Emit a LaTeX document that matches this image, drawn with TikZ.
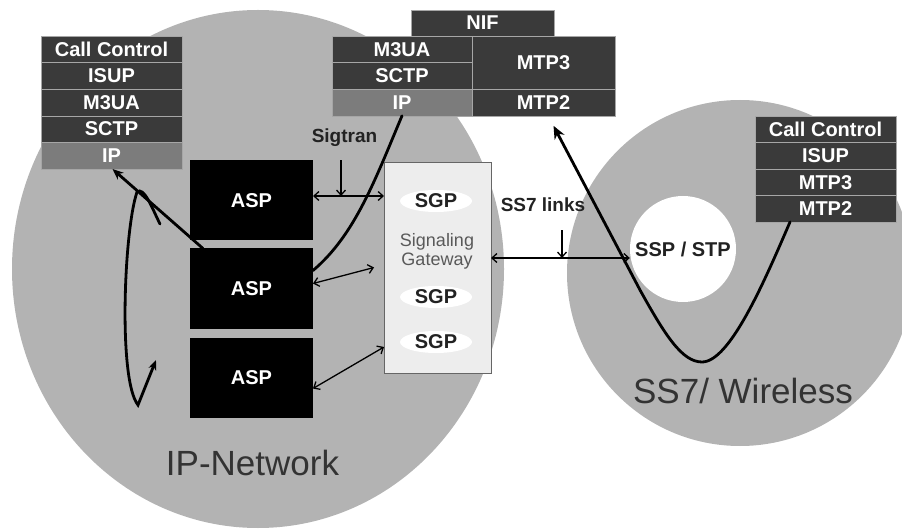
\documentclass[tikz,border=0pt]{standalone}
\usepackage{fontspec}
\setmainfont{Liberation Sans}
\usetikzlibrary{arrows.meta, positioning, shapes.geometric, calc}

\definecolor{netgray}{HTML}{B3B3B3}
\definecolor{stackdark}{HTML}{3A3A3A}
\definecolor{stackip}{HTML}{7C7C7C}
\definecolor{gwfill}{HTML}{EDEDED}
\definecolor{labeltext}{HTML}{222222}

\begin{document}
\begin{tikzpicture}[x=1pt, y=-1pt,
    layer/.style={draw=gray!70, fill=stackdark, text=white, font=\fontsize{20}{22}\selectfont\bfseries,
        minimum height=26.6pt, inner sep=0pt, outer sep=0pt},
    iplayer/.style={layer, fill=stackip},
    aspbox/.style={fill=black, text=white, font=\fontsize{20}{22}\selectfont\bfseries,
        minimum width=123pt, minimum height=80pt, inner sep=0pt, outer sep=0pt},
    sgp/.style={ellipse, fill=white, text=labeltext, font=\fontsize{20}{22}\selectfont\bfseries,
        minimum width=72pt, minimum height=22pt, inner sep=0pt},
    tag/.style={text=labeltext, font=\fontsize{19}{21}\selectfont\bfseries, inner sep=2pt, anchor=base},
    netname/.style={text=black!80, font=\fontsize{35}{40}\selectfont, anchor=base},
    dbl/.style={line width=1.3pt, {Straight Barb[length=5pt,width=9pt]}-{Straight Barb[length=5pt,width=9pt]}},
    tick/.style={line width=1.3pt, -{Straight Barb[length=5pt,width=9pt]}},
    wire/.style={line width=2.8pt, line cap=round}
]
    \useasboundingbox (0,0) rectangle (902,529);

    % the two networks
    \fill[netgray] (258,269) ellipse [x radius=246pt, y radius=259pt];
    \fill[netgray] (740,273) circle [radius=173pt];
    \node[netname] (ipnet) at (252.5,475) {IP-Network};
    \node[netname] (ss7net) at (743,403) {SS7/ Wireless};

    % protocol stack of the ASP side
    \node[layer, minimum width=141pt] (lcc) at (111.5,49.3) {Call Control};
    \node[layer, minimum width=141pt, below=0pt of lcc] (lisup) {ISUP};
    \node[layer, minimum width=141pt, below=0pt of lisup] (lm3ua) {M3UA};
    \node[layer, minimum width=141pt, below=0pt of lm3ua] (lsctp) {SCTP};
    \node[iplayer, minimum width=141pt, below=0pt of lsctp] (lip) {IP};

    % protocol stack of the gateway
    \node[layer, minimum width=143pt, minimum height=26pt] (mnif) at (482.5,23) {NIF};
    \node[layer, minimum width=140pt] (mm3ua) at (402,49.3) {M3UA};
    \node[layer, minimum width=140pt, below=0pt of mm3ua] (msctp) {SCTP};
    \node[iplayer, minimum width=140pt, below=0pt of msctp] (mip) {IP};
    \node[layer, minimum width=143pt, right=0pt of mip] (mmtp2) {MTP2};
    \node[layer, minimum width=143pt, minimum height=53.2pt, above=0pt of mmtp2] (mmtp3) {MTP3};

    % protocol stack of the SS7 side
    \node[layer, minimum width=141pt, minimum height=26.5pt] (rcc) at (825.5,129.25) {Call Control};
    \node[layer, minimum width=141pt, minimum height=26.5pt, below=0pt of rcc] (risup) {ISUP};
    \node[layer, minimum width=141pt, minimum height=26.5pt, below=0pt of risup] (rmtp3) {MTP3};
    \node[layer, minimum width=141pt, minimum height=26.5pt, below=0pt of rmtp3] (rmtp2) {MTP2};

    % application servers
    \node[aspbox] (asp1) at (251.5,200.5) {ASP};
    \node[aspbox, below=8pt of asp1] (asp2) {ASP};
    \node[aspbox, below=9pt of asp2] (asp3) {ASP};

    % signaling gateway
    \node[draw=gray!80!black, fill=gwfill, minimum width=107pt, minimum height=211pt, outer sep=0pt] (gw) at (437.5,267.5) {};
    \node[sgp] (sgp1) at (436,201) {SGP};
    \node[sgp] (sgp2) at (436,297) {SGP};
    \node[sgp] (sgp3) at (436,342) {SGP};
    \node[text=black!65, font=\fontsize{18}{19}\selectfont, align=center] (gwname) at (437,251) {Signaling\\Gateway};

    % signaling point
    \node[circle, fill=white, minimum size=106pt, inner sep=0pt, text=labeltext,
        font=\fontsize{20}{22}\selectfont\bfseries] (ssp) at (683,249) {SSP / STP};

    % labels of the links
    \node[tag] (sigtran) at (344.5,143) {Sigtran};
    \node[tag] (links) at (543,212) {SS7 links};
    \coordinate (sigpoint) at (341,196);
    \coordinate (linkpoint) at (562,258);

    % connections
    \draw[dbl] (asp1.east |- sigpoint) -- (gw.west |- sigpoint);
    \draw[tick, shorten <=11pt] (sigtran.south -| sigpoint) -- (sigpoint);
    \draw[dbl] ([yshift=5pt]asp2.east) -- ([xshift=-10pt]gw.west);
    \draw[dbl] ([yshift=-11pt]asp3.east) -- ([yshift=26pt]gw.south west);
    \draw[dbl] (gw.east |- linkpoint) -- (ssp.west |- linkpoint);
    \draw[tick, shorten <=16pt] (links.south -| linkpoint) -- (linkpoint);

    % message paths
    \draw[wire] (mip.south) .. controls (375,180) and (355,235) .. ([yshift=18pt]asp2.east);
    \draw[wire, -{Stealth[length=11pt,width=9pt]}] ([xshift=13pt]asp2.north west) -- ([xshift=1pt]lip.south);
    \coordinate (loopstart) at (160,224);
    \draw[wire, -{Stealth[length=10pt,width=8pt]}] (loopstart) .. controls (152,208) and (144,186) .. (137,192)
        .. controls (124,230) and (118,380) .. (138,405) -- (156,360);
    \draw[wire, -{Stealth[length=13pt,width=11pt]}] ([xshift=35pt]rmtp2.south west)
        .. controls (765,280) and (730,362) .. (702,362)
        .. controls (682,362) and (665,335) .. (640,290) -- ([xshift=10pt, yshift=-10pt]mmtp2.south);
\end{tikzpicture}
\end{document}
